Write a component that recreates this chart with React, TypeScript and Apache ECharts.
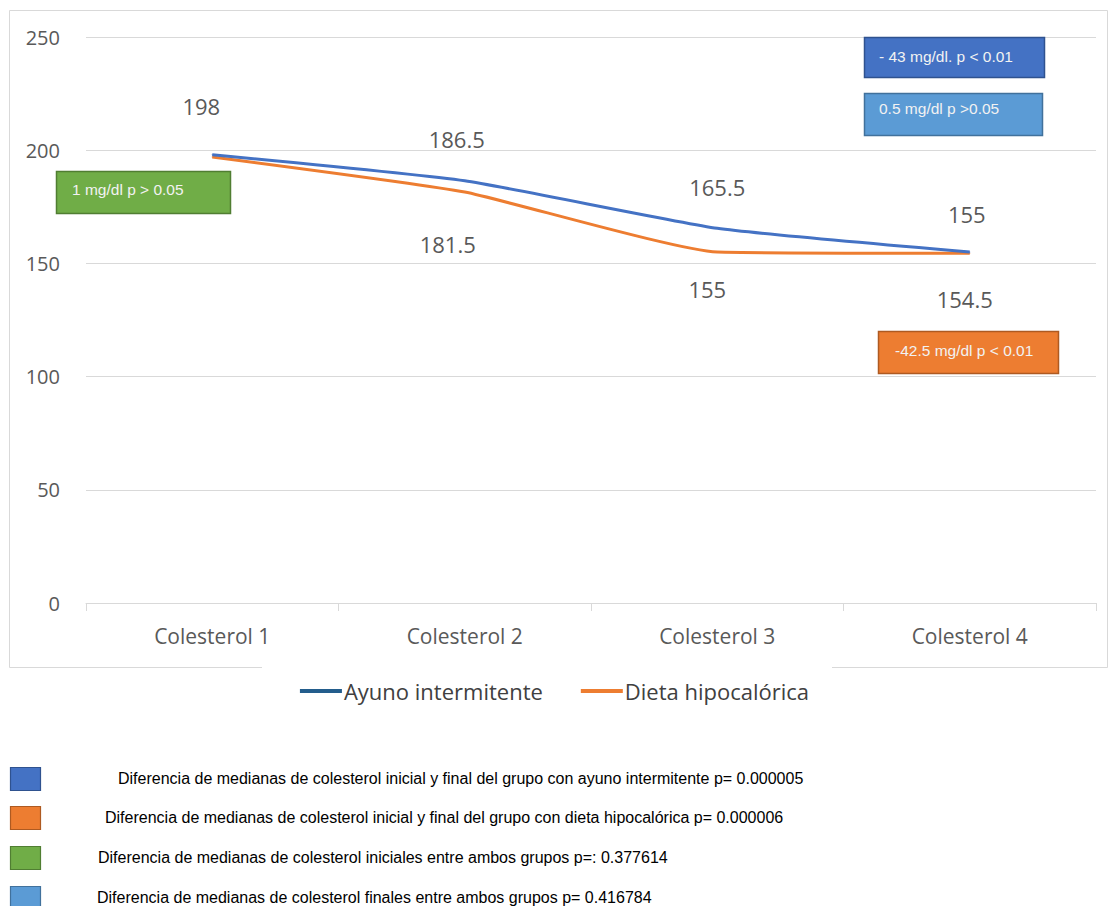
import React, { useEffect, useRef } from "react";
import * as echarts from "echarts";

const categories = ["Colesterol 1", "Colesterol 2", "Colesterol 3", "Colesterol 4"];
const ayunoValues = [198, 186.5, 165.5, 155];
const dietaValues = [197, 181.5, 155, 154.5];
const dietaLabelShown = [false, true, true, true];
const seriesNames = ["Ayuno intermitente", "Dieta hipocalórica"];
const yTicks = { min: 0, max: 250, interval: 50 };

// label placement (style only)
const ayunoLabelDistance = [37, 30, 30, 27];
const ayunoLabelShiftX = [-11, -8, 0, -3];
const dietaLabelDistance = [30, 40, 25, 34];
const dietaLabelShiftX = [0, -17, -10, -5];

const annotations = [
  { text: "- 43 mg/dl. p < 0.01", fill: "#4472C4", stroke: "#2F528F", x: 864, y: 37, w: 180, h: 40, tx: 879, ty: 56 },
  { text: "0.5 mg/dl p >0.05", fill: "#5B9BD5", stroke: "#41719C", x: 864, y: 93, w: 178, h: 42, tx: 879, ty: 108 },
  { text: "-42.5 mg/dl p < 0.01", fill: "#ED7D31", stroke: "#AE5A21", x: 878, y: 331, w: 180, h: 42, tx: 895, ty: 350 },
  { text: "1 mg/dl p > 0.05", fill: "#70AD47", stroke: "#507E32", x: 56, y: 171, w: 174, h: 42, tx: 72, ty: 189 },
];

const notes = [
  { text: "Diferencia de medianas de colesterol inicial y final del grupo con ayuno intermitente p= 0.000005", fill: "#4472C4", stroke: "#2F528F", y: 767, tx: 118 },
  { text: "Diferencia de medianas de colesterol inicial y final del grupo con dieta hipocalórica p= 0.000006", fill: "#ED7D31", stroke: "#AE5A21", y: 806, tx: 105 },
  { text: "Diferencia de medianas de colesterol iniciales entre ambos grupos p=: 0.377614", fill: "#70AD47", stroke: "#507E32", y: 846, tx: 98 },
  { text: "Diferencia de medianas de colesterol finales entre ambos grupos p= 0.416784", fill: "#5B9BD5", stroke: "#41719C", y: 886, tx: 97 },
];

export default function App() {
  const ref = useRef<HTMLDivElement>(null);
  useEffect(() => {
    if (!ref.current) return;
    const chart = echarts.init(ref.current, null, { renderer: "svg" });
    const font = "'Open Sans', 'Noto Sans', sans-serif";
    const graphics: any[] = [
      {
        type: "rect",
        z: 0,
        silent: true,
        shape: { x: 9.5, y: 10.5, width: 1098, height: 657 },
        style: { fill: "none", stroke: "#D9D9D9", lineWidth: 1 },
      },
      {
        type: "rect",
        z: 1,
        silent: true,
        shape: { x: 262, y: 662, width: 570, height: 50 },
        style: { fill: "#ffffff" },
      },
    ];
    annotations.forEach((a) => {
      graphics.push({
        type: "rect",
        z: 10,
        shape: { x: a.x + 0.5, y: a.y + 0.5, width: a.w, height: a.h },
        style: { fill: a.fill, stroke: a.stroke, lineWidth: 1.5 },
      });
      graphics.push({
        type: "text",
        z: 11,
        x: a.tx,
        y: a.ty,
        style: {
          text: a.text,
          fill: "#F2F2F2",
          font: "15.5px 'Liberation Sans', Arial, sans-serif",
          verticalAlign: "middle",
        },
      });
    });
    notes.forEach((n) => {
      graphics.push({
        type: "rect",
        z: 10,
        shape: { x: 10.5, y: n.y + 0.5, width: 30, height: 23 },
        style: { fill: n.fill, stroke: n.stroke, lineWidth: 1.2 },
      });
      graphics.push({
        type: "text",
        z: 11,
        x: n.tx,
        y: n.y + 11,
        style: {
          text: n.text,
          fill: "#000000",
          font: "16px 'Liberation Sans', Arial, sans-serif",
          verticalAlign: "middle",
        },
      });
    });

    chart.setOption({
      animation: false,
      backgroundColor: "#ffffff",
      textStyle: { fontFamily: font },
      grid: { left: 86, right: 13, top: 37, bottom: 303, containLabel: false },
      legend: {
        show: true,
        left: "center",
        top: 675,
        itemGap: 38,
        itemWidth: 42,
        itemHeight: 4,
        z: 5,
        textStyle: { fontSize: 22, color: "#404040", fontFamily: font, padding: [0, 0, 0, -3] },
        data: [
          { name: seriesNames[0], icon: "rect", itemStyle: { color: "#235D8C" } },
          { name: seriesNames[1], icon: "rect", itemStyle: { color: "#ED7D31" } },
        ],
      },
      xAxis: {
        type: "category",
        data: categories,
        boundaryGap: true,
        axisLine: { show: true, lineStyle: { color: "#D9D9D9", width: 1 } },
        axisTick: { show: true, alignWithLabel: false, length: 8, lineStyle: { color: "#D9D9D9" } },
        axisLabel: { color: "#595959", fontSize: 21, margin: 22, fontFamily: font },
        splitLine: { show: false },
      },
      yAxis: {
        type: "value",
        min: yTicks.min,
        max: yTicks.max,
        interval: yTicks.interval,
        axisLine: { show: false },
        axisTick: { show: false },
        axisLabel: { color: "#595959", fontSize: 20, margin: 26, fontFamily: font },
        splitLine: { show: true, lineStyle: { color: "#D9D9D9", width: 1 } },
      },
      series: [
        {
          name: seriesNames[0],
          type: "line",
          smooth: 0.15,
          data: ayunoValues.map((v, i) => ({
            value: v,
            label: { distance: ayunoLabelDistance[i], offset: [ayunoLabelShiftX[i], 0] },
          })),
          symbol: "circle",
          symbolSize: 1,
          showSymbol: true,
          itemStyle: { color: "#4472C4" },
          lineStyle: { color: "#4472C4", width: 3 },
          label: {
            show: true,
            position: "top",
            color: "#595959",
            fontSize: 22,
            fontFamily: font,
          },
          z: 3,
        },
        {
          name: seriesNames[1],
          type: "line",
          smooth: 0.15,
          data: dietaValues.map((v, i) => ({
            value: v,
            label: {
              show: dietaLabelShown[i],
              distance: dietaLabelDistance[i],
              offset: [dietaLabelShiftX[i], 0],
            },
          })),
          symbol: "circle",
          symbolSize: 1,
          showSymbol: true,
          itemStyle: { color: "#ED7D31" },
          lineStyle: { color: "#ED7D31", width: 3 },
          label: {
            show: true,
            position: "bottom",
            color: "#595959",
            fontSize: 22,
            fontFamily: font,
          },
          z: 2,
        },
      ],
      graphic: graphics,
    });
    return () => chart.dispose();
  }, []);
  return (
    <div
      ref={ref}
      style={{ position: "absolute", left: 0, top: 0, width: 1109, height: 906 }}
    />
  );
}
